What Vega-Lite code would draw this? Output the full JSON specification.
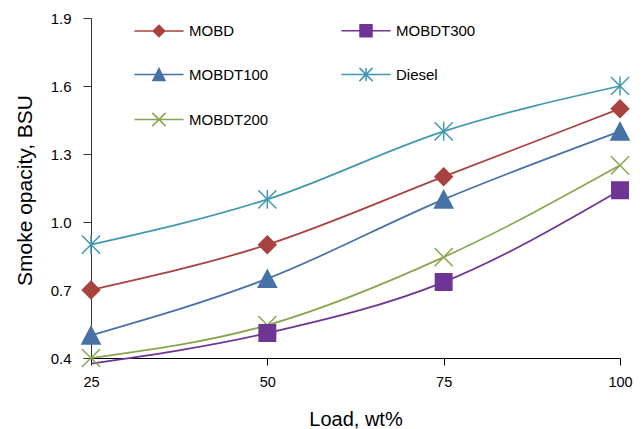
{
  "$schema": "https://vega.github.io/schema/vega-lite/v6.json",
  "width": 529,
  "height": 340,
  "autosize": {"type": "none"},
  "padding": {"left": 91, "top": 18, "right": 24, "bottom": 71},
  "config": {"view": {"stroke": null}, "font": "Liberation Sans"},
  "data": {
    "values": [
      {"load": 25, "series": "MOBD", "value": 0.70},
      {"load": 50, "series": "MOBD", "value": 0.90},
      {"load": 75, "series": "MOBD", "value": 1.20},
      {"load": 100, "series": "MOBD", "value": 1.50},
      {"load": 25, "series": "MOBDT100", "value": 0.50},
      {"load": 50, "series": "MOBDT100", "value": 0.75},
      {"load": 75, "series": "MOBDT100", "value": 1.10},
      {"load": 100, "series": "MOBDT100", "value": 1.40},
      {"load": 25, "series": "MOBDT200", "value": 0.40},
      {"load": 50, "series": "MOBDT200", "value": 0.545},
      {"load": 75, "series": "MOBDT200", "value": 0.845},
      {"load": 100, "series": "MOBDT200", "value": 1.25},
      {"load": 25, "series": "MOBDT300", "value": 0.375},
      {"load": 50, "series": "MOBDT300", "value": 0.51},
      {"load": 75, "series": "MOBDT300", "value": 0.735},
      {"load": 100, "series": "MOBDT300", "value": 1.14},
      {"load": 25, "series": "Diesel", "value": 0.90},
      {"load": 50, "series": "Diesel", "value": 1.10},
      {"load": 75, "series": "Diesel", "value": 1.40},
      {"load": 100, "series": "Diesel", "value": 1.60}
    ]
  },
  "encoding": {
    "x": {
      "field": "load",
      "type": "quantitative",
      "scale": {"domain": [25, 100], "nice": false, "zero": false},
      "axis": {
        "values": [25, 50, 75, 100],
        "grid": false,
        "title": "Load, wt%",
        "titleFont": "Liberation Sans",
        "titleFontSize": 20,
        "titleFontWeight": "normal",
        "titleColor": "#000",
        "titleBaseline": "alphabetic",
        "titleY": 67,
        "labelFont": "Liberation Sans",
        "labelFontSize": 14.5,
        "labelColor": "#000",
        "labelPadding": 10,
        "tickSize": 7,
        "tickColor": "#000",
        "domainColor": "#000",
        "labelFlush": false
      }
    },
    "y": {
      "field": "value",
      "type": "quantitative",
      "scale": {"domain": [0.4, 1.9], "nice": false, "zero": false},
      "axis": {
        "values": [0.4, 0.7, 1.0, 1.3, 1.6, 1.9],
        "format": ".1f",
        "grid": false,
        "title": "Smoke opacity, BSU",
        "titleFont": "Liberation Sans",
        "titleFontSize": 21,
        "titleFontWeight": "normal",
        "titleColor": "#000",
        "titleAngle": -90,
        "titleBaseline": "alphabetic",
        "titleX": -60,
        "titleY": 172,
        "labelFont": "Liberation Sans",
        "labelFontSize": 15,
        "labelColor": "#000",
        "labelPadding": 12,
        "tickSize": 8,
        "tickColor": "#333",
        "domainColor": "#333",
        "labelFlush": false
      }
    }
  },
  "layer": [
    {
      "mark": {"type": "line", "interpolate": "monotone", "strokeWidth": 1.75},
      "encoding": {
        "color": {
          "field": "series",
          "type": "nominal",
          "scale": {
            "domain": ["MOBD", "MOBDT300", "MOBDT100", "Diesel", "MOBDT200"],
            "range": ["#A8423F", "#6E3594", "#4672A8", "#4198AF", "#89A54E"]
          },
          "legend": {
            "title": null,
            "orient": "none",
            "direction": "horizontal",
            "legendX": 43,
            "legendY": 5,
            "columns": 2,
            "columnPadding": 69,
            "rowPadding": 24,
            "padding": 0,
            "labelFont": "Liberation Sans",
            "labelFontSize": 15,
            "labelColor": "#000",
            "symbolSize": 144,
            "encode": {
              "symbols": {
                "update": {
                  "shape": {"signal": "datum.value === 'MOBD' ? 'M-4.1,0H4.1M0,-0.95L0.95,0L0,0.95L-0.95,0Z' : datum.value === 'MOBDT300' ? 'M-4.1,0H4.1M-1,-1H1V1H-1Z' : datum.value === 'MOBDT100' ? 'M-4.1,0H4.1M0,-1L1,1H-1Z' : datum.value === 'Diesel' ? 'M-4.1,0H4.1M-1.1,-1.1L1.1,1.1M-1.1,1.1L1.1,-1.1M0,-1.1V1.1' : 'M-4.1,0H4.1M-1.1,-1.1L1.1,1.1M-1.1,1.1L1.1,-1.1'"},
                  "fill": {"signal": "scale('color', datum.value)"},
                  "stroke": {"signal": "scale('color', datum.value)"},
                  "strokeWidth": {"value": 1.5},
                  "size": {"value": 144},
                  "opacity": {"value": 1},
                  "fillOpacity": {"value": 1},
                  "x": {"value": 25}
                }
              },
              "labels": {
                "update": {"x": {"value": 55}}
              }
            }
          }
        }
      }
    },
    {
      "transform": [{"filter": "datum.value >= 0.4"}],
      "mark": {
        "type": "point",
        "filled": true,
        "opacity": 1,
        "size": 300,
        "strokeWidth": 1.5,
        "stroke": {"expr": "scale('color', datum.series)"},
        "shape": {"expr": "datum.series === 'MOBD' ? 'M0,-1L1,0L0,1L-1,0Z' : datum.series === 'MOBDT300' ? 'M-0.95,-0.95H0.95V0.95H-0.95Z' : datum.series === 'MOBDT100' ? 'M0,-1L1.05,1H-1.05Z' : datum.series === 'Diesel' ? 'M-1.05,-1.05L1.05,1.05M-1.05,1.05L1.05,-1.05M0,-1.1V1.1' : 'M-1.05,-1.05L1.05,1.05M-1.05,1.05L1.05,-1.05'"}
      },
      "encoding": {
        "color": {"field": "series", "type": "nominal"}
      }
    }
  ]
}
